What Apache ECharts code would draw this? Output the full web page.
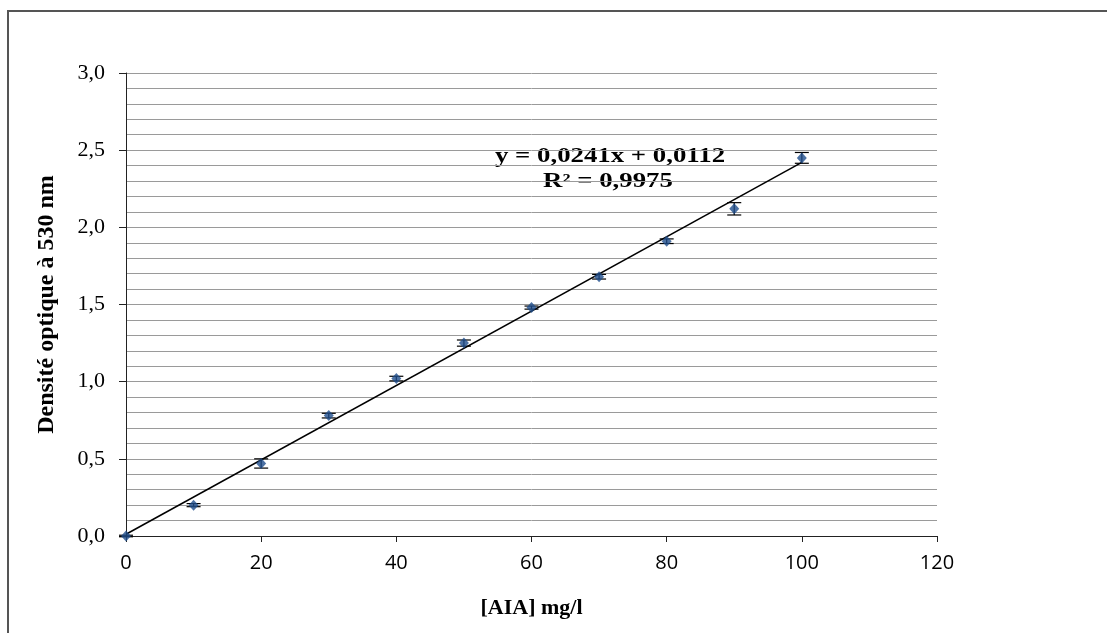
<!DOCTYPE html>
<html><head><meta charset="utf-8">
<script src="https://cdn.jsdelivr.net/npm/echarts@6/dist/echarts.min.js"></script>
<style>html,body{margin:0;padding:0;background:#fff}#c{width:1107px;height:633px}</style>
</head><body><div id="c"></div>
<script>
const concentrations = [0, 10, 20, 30, 40, 50, 60, 70, 80, 90, 100];
const absorbance = [0.00, 0.20, 0.47, 0.78, 1.02, 1.25, 1.48, 1.68, 1.91, 2.12, 2.45];
const errors = [0.005, 0.01, 0.03, 0.015, 0.015, 0.02, 0.01, 0.015, 0.015, 0.04, 0.035];
const trendX = [0, 100];
const trendY = [0.0112, 2.4212];
const equationLines = ['y = 0,0241x + 0,0112', 'R² = 0,9975'];
const xTitle = '[AIA] mg/l';
const yTitle = 'Densité optique à 530 nm';

const chart = echarts.init(document.getElementById('c'));
const pts = concentrations.map((x, i) => [x, absorbance[i]]);
const errData = concentrations.map((x, i) => [x, absorbance[i] - errors[i], absorbance[i] + errors[i]]);
const trend = trendX.map((x, i) => [x, trendY[i]]);

chart.setOption({
  animation: false,
  backgroundColor: '#fff',
  grid: {left: 126, right: 170, top: 73, bottom: 97},
  xAxis: {
    type: 'value', min: 0, max: 120, interval: 20,
    name: xTitle, nameLocation: 'middle', nameGap: 61,
    nameTextStyle: {fontFamily: 'Liberation Serif', fontWeight: 'bold', fontSize: 22, color: '#000'},
    axisLine: {lineStyle: {color: '#222', width: 1}},
    axisTick: {show: true, length: 6, lineStyle: {color: '#222'}},
    axisLabel: {fontFamily: 'Open Sans', fontSize: 20, color: '#000', margin: 17},
    splitLine: {show: false}
  },
  yAxis: {
    type: 'value', min: 0, max: 3, interval: 0.5,
    name: yTitle, nameLocation: 'middle', nameGap: 67,
    nameTextStyle: {fontFamily: 'Liberation Serif', fontWeight: 'bold', fontSize: 24, color: '#000'},
    axisLine: {show: true, lineStyle: {color: '#222', width: 1}},
    axisTick: {show: true, length: 7, lineStyle: {color: '#222'}},
    axisLabel: {fontFamily: 'Liberation Serif', fontSize: 22, color: '#000', margin: 21,
      formatter: v => v.toFixed(1).replace('.', ',')},
    splitLine: {show: true, lineStyle: {color: '#9a9a9a', width: 1}},
    minorTick: {show: false, splitNumber: 5},
    minorSplitLine: {show: true, lineStyle: {color: '#9a9a9a', width: 1}}
  },
  series: [
    {
      type: 'line', data: trend, showSymbol: false, symbol: 'none',
      lineStyle: {color: '#000', width: 1.5}, z: 3
    },
    {
      type: 'custom', data: errData, z: 4,
      renderItem: (params, api) => {
        const x = api.value(0);
        const lo = api.coord([x, api.value(1)]);
        const hi = api.coord([x, api.value(2)]);
        const w = 7;
        const s = {stroke: '#000', lineWidth: 1.2};
        return {type: 'group', children: [
          {type: 'line', shape: {x1: lo[0], y1: lo[1], x2: hi[0], y2: hi[1]}, style: s},
          {type: 'line', shape: {x1: lo[0]-w, y1: lo[1], x2: lo[0]+w, y2: lo[1]}, style: s},
          {type: 'line', shape: {x1: hi[0]-w, y1: hi[1], x2: hi[0]+w, y2: hi[1]}, style: s}
        ]};
      }
    },
    {
      type: 'scatter', data: pts, symbol: 'diamond', symbolSize: [10, 11],
      itemStyle: {color: '#1F4E8C'}, z: 5
    }
  ],
  graphic: [
    {type: 'rect', shape: {x: 8, y: 11, width: 1200, height: 700},
     style: {fill: 'none', stroke: '#555', lineWidth: 2}, silent: true},
    {type: 'text', x: 610, y: 157, scaleX: 1.34, style: {text: equationLines[0], fontFamily: 'Liberation Serif',
      fontWeight: 'bold', fontSize: 20, fill: '#000', align: 'center', verticalAlign: 'middle'}},
    {type: 'text', x: 608, y: 182, scaleX: 1.34, style: {text: equationLines[1], fontFamily: 'Liberation Serif',
      fontWeight: 'bold', fontSize: 20, fill: '#000', align: 'center', verticalAlign: 'middle'}}
  ]
});
</script></body></html>
